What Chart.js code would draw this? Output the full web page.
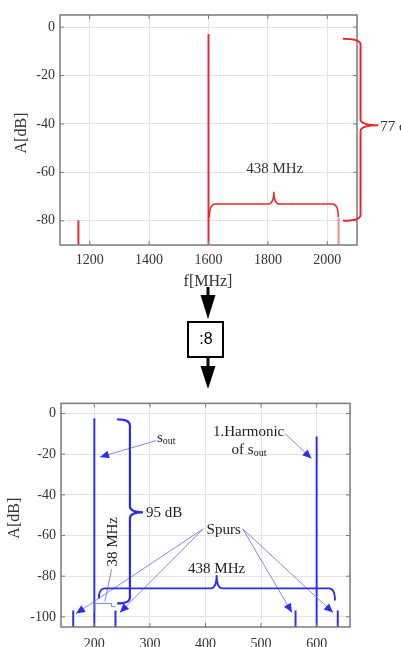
<!DOCTYPE html>
<html>
<head>
<meta charset="utf-8">
<script src="https://cdn.jsdelivr.net/npm/chart.js@4.4.1/dist/chart.umd.min.js"></script>
<style>
  html, body { margin: 0; padding: 0; background: #fff; }
  body { position: relative; width: 401px; height: 647px; overflow: hidden; }
  canvas { position: absolute; left: 0; }
  #topChart { top: 0; }
  #botChart { top: 390px; }
</style>
</head>
<body>
<canvas id="topChart" width="401" height="390"></canvas>
<canvas id="botChart" width="401" height="257"></canvas>
<script>
// upper spectrum (before the divider)
const topFreq = [1162, 1600, 2038];
const topLevel = [-80, -3, -79];
const topXTicks = [1200, 1400, 1600, 1800, 2000];
const topYTicks = [-80, -60, -40, -20, 0];

// lower spectrum (after :8)
const botFreq = [162, 200, 238, 562, 600, 638];
const botLevel = [-97, -2.5, -97, -97, -11.5, -97];
const botXTicks = [200, 300, 400, 500, 600];
const botYTicks = [-100, -80, -60, -40, -20, 0];

const SERIF = "'Liberation Serif', 'Times New Roman', serif";
const RED = "#e8282e";
const BLUE = "#2e2ee8";
const BLUE_THIN = "#8585ee";

function arrowHead(ctx, x0, y0, x1, y1, color) {
  const a = Math.atan2(y1 - y0, x1 - x0);
  const len = 9, w = 4;
  ctx.fillStyle = color;
  ctx.beginPath();
  ctx.moveTo(x1, y1);
  ctx.lineTo(x1 - len * Math.cos(a) + w * Math.sin(a), y1 - len * Math.sin(a) - w * Math.cos(a));
  ctx.lineTo(x1 - len * Math.cos(a) - w * Math.sin(a), y1 - len * Math.sin(a) + w * Math.cos(a));
  ctx.closePath();
  ctx.fill();
}

function arrow(ctx, x0, y0, x1, y1) {
  ctx.strokeStyle = BLUE_THIN;
  ctx.lineWidth = 1;
  ctx.beginPath();
  ctx.moveTo(x0, y0);
  ctx.lineTo(x1, y1);
  ctx.stroke();
  arrowHead(ctx, x0, y0, x1, y1, BLUE);
}

function hBrace(ctx, x1, x2, yLine, yEnd1, yEnd2, xm, yTip) {
  const r = 6;
  ctx.beginPath();
  ctx.moveTo(x1, yEnd1);
  ctx.quadraticCurveTo(x1, yLine, x1 + r, yLine);
  ctx.lineTo(xm - r, yLine);
  ctx.quadraticCurveTo(xm, yLine, xm, yTip);
  ctx.quadraticCurveTo(xm, yLine, xm + r, yLine);
  ctx.lineTo(x2 - r, yLine);
  ctx.quadraticCurveTo(x2, yLine, x2, yEnd2);
  ctx.stroke();
}

function vBrace(ctx, xLine, xEnd, y1, y2, ym, xTip) {
  const r = 6;
  ctx.beginPath();
  ctx.moveTo(xEnd, y1);
  ctx.quadraticCurveTo(xLine, y1, xLine, y1 + r);
  ctx.lineTo(xLine, ym - r);
  ctx.quadraticCurveTo(xLine, ym, xTip, ym);
  ctx.quadraticCurveTo(xLine, ym, xLine, ym + r);
  ctx.lineTo(xLine, y2 - r);
  ctx.quadraticCurveTo(xLine, y2, xEnd, y2);
  ctx.stroke();
}

// box, inward ticks and axis titles like the original figure
function frame(chart, yTitleX, xTitle) {
  const ctx = chart.ctx, a = chart.chartArea;
  const sx = chart.scales.x, sy = chart.scales.y;
  ctx.save();
  ctx.strokeStyle = "#7a7a7a";
  ctx.lineWidth = 1;
  sx.ticks.forEach(t => {
    const p = sx.getPixelForValue(t.value);
    ctx.beginPath();
    ctx.moveTo(p, a.bottom); ctx.lineTo(p, a.bottom - 4);
    ctx.moveTo(p, a.top); ctx.lineTo(p, a.top + 4);
    ctx.stroke();
  });
  sy.ticks.forEach(t => {
    const p = sy.getPixelForValue(t.value);
    ctx.beginPath();
    ctx.moveTo(a.left, p); ctx.lineTo(a.left + 4, p);
    ctx.moveTo(a.right, p); ctx.lineTo(a.right - 4, p);
    ctx.stroke();
  });
  ctx.lineWidth = 1.5;
  ctx.strokeRect(a.left, a.top, a.right - a.left, a.bottom - a.top);

  ctx.fillStyle = "#333";
  ctx.font = "16px " + SERIF;
  ctx.textAlign = "center";
  ctx.textBaseline = "middle";
  ctx.save();
  ctx.translate(yTitleX, (a.top + a.bottom) / 2 + 3);
  ctx.rotate(-Math.PI / 2);
  ctx.fillText("A[dB]", 0, 0);
  ctx.restore();
  if (xTitle) ctx.fillText(xTitle.text, xTitle.x, xTitle.y);
  ctx.restore();
}

function scaleOpts(min, max, ticks, labelPad, fitSize, isX) {
  return {
    type: "linear",
    min: min,
    max: max,
    offset: false,
    afterBuildTicks: s => { s.ticks = ticks.map(v => ({ value: v })); },
    afterFit: s => { if (isX) s.height = fitSize; else s.width = fitSize; },
    grid: { color: "#e4e4e4", lineWidth: 1, drawTicks: false, offset: false },
    border: { display: false },
    ticks: {
      color: "#333",
      padding: labelPad,
      font: { family: SERIF, size: 14 },
      maxRotation: 0,
      autoSkip: false,
      callback: v => String(v)
    }
  };
}

const topNotes = {
  id: "topNotes",
  afterDraw(chart) {
    const ctx = chart.ctx;
    const X = v => chart.scales.x.getPixelForValue(v);
    const Y = v => chart.scales.y.getPixelForValue(v);
    frame(chart, 22, { text: "f[MHz]", x: 208, y: 282 });

    ctx.save();
    ctx.strokeStyle = RED;
    ctx.lineWidth = 1.5;
    hBrace(ctx, X(1603), X(2037), Y(-73.1), Y(-78.5), Y(-78.5), X(1820), Y(-68));
    ctx.lineWidth = 2;
    vBrace(ctx, X(2112), X(2053), Y(-4.8), Y(-80), Y(-40.5), X(2172));

    ctx.fillStyle = "#333";
    ctx.font = "15px " + SERIF;
    ctx.textBaseline = "middle";
    ctx.textAlign = "center";
    ctx.fillText("438 MHz", X(1823), Y(-58.6));
    ctx.textAlign = "left";
    ctx.fillText("77 dB", X(2178), Y(-40.5) + 2);

    // divider block between the two spectra
    ctx.strokeStyle = "#000";
    ctx.fillStyle = "#000";
    ctx.lineWidth = 3;
    ctx.beginPath();
    ctx.moveTo(208, 287); ctx.lineTo(208, 296);
    ctx.moveTo(208, 357); ctx.lineTo(208, 370);
    ctx.stroke();
    ctx.beginPath();
    ctx.moveTo(200.5, 295); ctx.lineTo(215.5, 295); ctx.lineTo(208, 319); ctx.closePath();
    ctx.fill();
    ctx.beginPath();
    ctx.moveTo(200.5, 366); ctx.lineTo(215.5, 366); ctx.lineTo(208, 389); ctx.closePath();
    ctx.fill();
    ctx.lineWidth = 2;
    ctx.strokeRect(188, 322, 35, 35);
    ctx.font = "16px 'Liberation Sans', Arial, sans-serif";
    ctx.textAlign = "center";
    ctx.fillText(":8", 206, 340);
    ctx.restore();
  }
};

const botNotes = {
  id: "botNotes",
  afterDraw(chart) {
    const ctx = chart.ctx;
    const X = v => chart.scales.x.getPixelForValue(v);
    const Y = v => chart.scales.y.getPixelForValue(v);
    frame(chart, 15, null);

    ctx.save();
    // arrows to the labelled lines
    arrow(ctx, X(311), Y(-13.3), X(210.2), Y(-21.4));
    arrow(ctx, X(543), Y(-9.8), X(590.7), Y(-22.1));
    arrow(ctx, X(396), Y(-56.7), X(167), Y(-98.4));
    arrow(ctx, X(396), Y(-56.7), X(246), Y(-97.9));
    arrow(ctx, X(467), Y(-56.7), X(555.6), Y(-97.9));
    arrow(ctx, X(467), Y(-56.7), X(629.4), Y(-97.9));

    // 38 MHz marker
    ctx.strokeStyle = BLUE_THIN;
    ctx.lineWidth = 1;
    ctx.beginPath();
    ctx.moveTo(X(231), Y(-76.6)); ctx.lineTo(X(219), Y(-92.5));
    ctx.moveTo(X(201), Y(-97)); ctx.lineTo(X(201), Y(-93.4)); ctx.lineTo(X(231), Y(-93.4));
    ctx.lineTo(X(231), Y(-95)); ctx.lineTo(X(238), Y(-95));
    ctx.stroke();

    // braces
    ctx.strokeStyle = BLUE;
    ctx.lineWidth = 2.2;
    vBrace(ctx, X(264), X(241), Y(-2.9), Y(-93.4), Y(-48.6), X(287.5));
    ctx.lineWidth = 1.8;
    hBrace(ctx, X(208), X(633), Y(-86), Y(-91), Y(-92), X(420), Y(-79.4));

    ctx.fillStyle = "#222";
    ctx.font = "15px " + SERIF;
    ctx.textBaseline = "alphabetic";
    ctx.textAlign = "left";
    ctx.fillText("95 dB", X(293), Y(-48.6) + 5);
    ctx.fillText("Spurs", X(402), Y(-56.8) + 5);
    ctx.fillText("1.Harmonic", X(413.5), Y(-10.9));
    ctx.fillText("of s", X(447), Y(-20.1));
    let w = ctx.measureText("of s").width;
    ctx.fillText("s", X(312.7), Y(-14));
    let ws = ctx.measureText("s").width;
    ctx.font = "10px " + SERIF;
    ctx.fillText("out", X(447) + w, Y(-20.1) + 2);
    ctx.fillText("out", X(312.7) + ws, Y(-14) + 2);

    ctx.font = "15px " + SERIF;
    ctx.textAlign = "center";
    ctx.fillText("438 MHz", X(420), Y(-75.8) + 5);
    ctx.save();
    ctx.translate(X(233), Y(-63.1));
    ctx.rotate(-Math.PI / 2);
    ctx.textBaseline = "middle";
    ctx.fillText("38 MHz", 0, 0);
    ctx.restore();
    ctx.restore();
  }
};

new Chart(document.getElementById("topChart"), {
  type: "bar",
  data: {
    datasets: [{
      data: topFreq.map((f, i) => ({ x: f, y: [-90, topLevel[i]] })),
      backgroundColor: [RED, RED, "#f08a8a"],
      borderWidth: 0,
      barThickness: 1.3
    }]
  },
  options: {
    responsive: false,
    animation: false,
    layout: { padding: { left: 0, right: 44, top: 15, bottom: 0 } },
    plugins: { legend: { display: false }, tooltip: { enabled: false } },
    scales: {
      x: scaleOpts(1100, 2100, topXTicks, 7, 145, true),
      y: scaleOpts(-90, 5, topYTicks, 5, 60, false)
    }
  },
  plugins: [topNotes]
});

new Chart(document.getElementById("botChart"), {
  type: "bar",
  data: {
    datasets: [{
      data: botFreq.map((f, i) => ({ x: f, y: [-105, botLevel[i]] })),
      backgroundColor: BLUE,
      borderWidth: 0,
      barThickness: 1.3
    }]
  },
  options: {
    responsive: false,
    animation: false,
    layout: { padding: { left: 0, right: 51, top: 8, bottom: 0 } },
    plugins: { legend: { display: false }, tooltip: { enabled: false } },
    scales: {
      x: scaleOpts(140, 660, botXTicks, 9, 20, true),
      y: scaleOpts(-105, 5, botYTicks, 5, 61, false)
    }
  },
  plugins: [botNotes]
});
</script>
</body>
</html>
